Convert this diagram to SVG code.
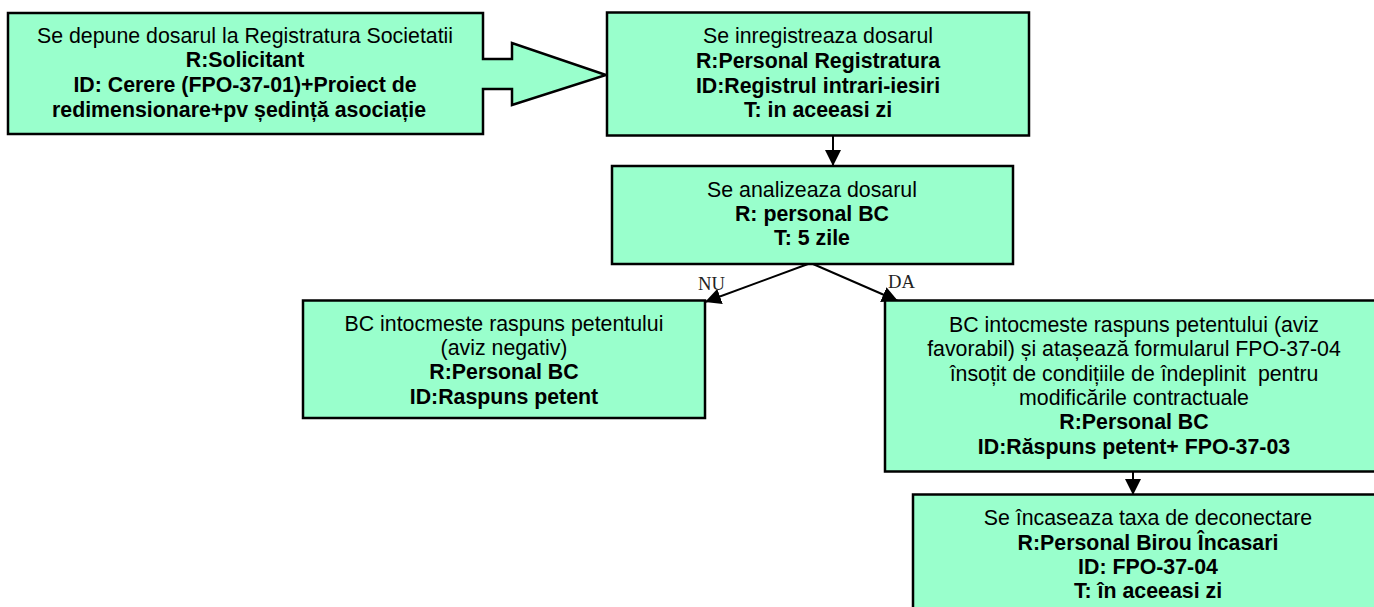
<svg xmlns="http://www.w3.org/2000/svg" width="1374" height="607" viewBox="0 0 1374 607">
<style>
.b{fill:#99ffcc;stroke:#000;stroke-width:2.5}
.t{font-family:"Liberation Sans",Arial,sans-serif;font-size:21.33px;text-anchor:middle;fill:#000;white-space:pre}
.s{font-weight:bold}
.c{stroke:#000;stroke-width:2;fill:none}
.l{font-family:"Liberation Serif","Times New Roman",serif;font-size:18.67px;fill:#222}
</style>
<defs>
<marker id="ah" markerUnits="userSpaceOnUse" markerWidth="17" markerHeight="16" refX="16" refY="8" orient="auto"><path d="M0 0L16 8L0 16Z" fill="#000"/></marker>
</defs>
<rect width="1374" height="607" fill="#fff"/>
<g id="connectors">
<line class="c" x1="833" y1="136" x2="833" y2="166" marker-end="url(#ah)"/>
<line class="c" x1="808" y1="264" x2="705" y2="302" marker-end="url(#ah)"/>
<line class="c" x1="813" y1="264" x2="898" y2="301" marker-end="url(#ah)"/>
<line class="c" x1="1133" y1="472" x2="1133" y2="495" marker-end="url(#ah)"/>
</g>
<g id="n1">
<path class="b" d="M8 13H483V59H512V43L606 75L512 105V89H483V134H8Z"/>
<text class="t" x="245" y="43">Se depune dosarul la Registratura Societatii</text>
<text class="t s" x="245" y="67">R:Solicitant</text>
<text class="t s" x="245" y="92">ID: Cerere (FPO-37-01)+Proiect de</text>
<text class="t s" x="239" y="117">redimensionare+pv ședință asociație</text>
</g>
<g id="n2">
<rect class="b" x="607" y="12.5" width="422" height="123"/>
<text class="t" x="818" y="43">Se inregistreaza dosarul</text>
<text class="t s" x="818" y="68">R:Personal Registratura</text>
<text class="t s" x="818" y="92.5">ID:Registrul intrari-iesiri</text>
<text class="t s" x="818" y="117">T: in aceeasi zi</text>
</g>
<g id="n3">
<rect class="b" x="612" y="166" width="401" height="98"/>
<text class="t" x="812" y="197">Se analizeaza dosarul</text>
<text class="t s" x="812" y="221">R: personal BC</text>
<text class="t s" x="812" y="245">T: 5 zile</text>
</g>
<g id="n4">
<rect class="b" x="303" y="300.5" width="402" height="117.5"/>
<text class="t" x="504" y="331">BC intocmeste raspuns petentului</text>
<text class="t" x="504" y="355">(aviz negativ)</text>
<text class="t s" x="504" y="379">R:Personal BC</text>
<text class="t s" x="504" y="404">ID:Raspuns petent</text>
</g>
<g id="n5">
<rect class="b" x="885" y="300.5" width="500" height="171"/>
<text class="t" x="1134" y="332">BC intocmeste raspuns petentului (aviz</text>
<text class="t" x="1134" y="356">favorabil) și atașează formularul FPO-37-04</text>
<text class="t" x="1134" y="381">însoțit de condițiile de îndeplinit  pentru</text>
<text class="t" x="1134" y="405">modificările contractuale</text>
<text class="t s" x="1134" y="429">R:Personal BC</text>
<text class="t s" x="1134" y="454">ID:Răspuns petent+ FPO-37-03</text>
</g>
<g id="n6">
<rect class="b" x="913" y="494.5" width="470" height="125"/>
<text class="t" x="1148" y="525">Se încaseaza taxa de deconectare</text>
<text class="t s" x="1148" y="550">R:Personal Birou Încasari</text>
<text class="t s" x="1148" y="574">ID: FPO-37-04</text>
<text class="t s" x="1148" y="598">T: în aceeasi zi</text>
</g>
<g id="labels">
<text class="l" x="698" y="290">NU</text>
<text class="l" x="888" y="288">DA</text>
</g>
</svg>
